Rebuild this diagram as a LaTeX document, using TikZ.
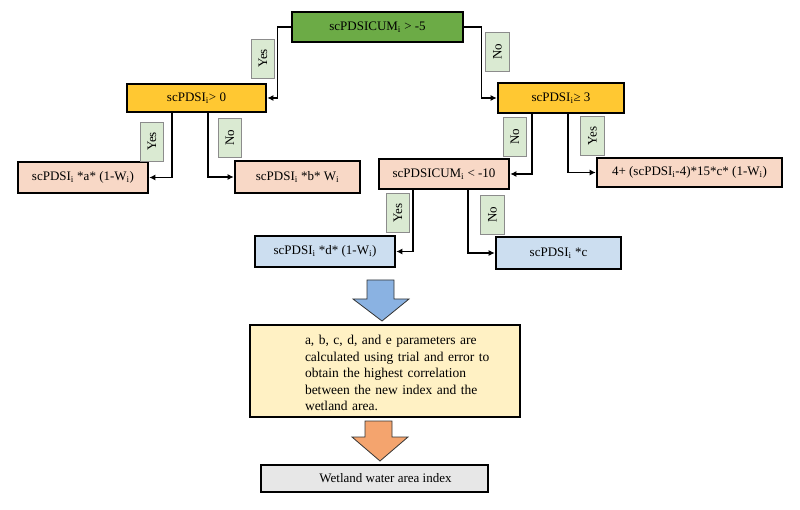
\documentclass[tikz,border=0pt]{standalone}
\usepackage{fontspec}
\setmainfont{Liberation Serif}
\usetikzlibrary{arrows.meta}
\definecolor{topgreen}{RGB}{108,171,70}
\definecolor{gold}{RGB}{255,200,50}
\definecolor{peach}{RGB}{248,216,198}
\definecolor{paleblue}{RGB}{204,222,240}
\definecolor{lblgreen}{RGB}{218,234,210}
\definecolor{lblborder}{RGB}{140,140,140}
\definecolor{cream}{RGB}{255,241,196}
\definecolor{lightgray}{RGB}{231,231,231}
\definecolor{arrowblue}{RGB}{138,178,226}
\definecolor{arroworange}{RGB}{244,164,110}
\tikzset{
  box/.style={draw=black, line width=2.6pt, inner sep=0pt, font=\fontsize{13}{15}\selectfont},
  lbl/.style={draw=lblborder, fill=lblgreen, line width=0.9pt, rotate=90, inner sep=0pt,
              minimum width=39pt, minimum height=23.5pt, font=\fontsize{13}{15}\selectfont},
  conn/.style={line width=1.3pt, -{Latex[length=6pt,width=6pt]}},
  blockarrow/.style={draw=black!80, line width=0.8pt, line join=miter}
}
\begin{document}
\begin{tikzpicture}[x=1pt,y=-1pt]
\useasboundingbox (0,0) rectangle (800,510);
% decision nodes
\node[box, fill=topgreen, minimum width=171pt, minimum height=30pt] (top) at (377.5,27) {scPDSICUM\textsubscript{i} > -5};
\node[box, fill=gold, minimum width=139pt, minimum height=28pt] (L) at (196.5,98) {scPDSI\textsubscript{i}> 0};
\node[box, fill=gold, minimum width=126pt, minimum height=30pt] (R) at (561,98) {scPDSI\textsubscript{i}≥ 3};
\node[box, fill=peach, minimum width=130pt, minimum height=31pt] (A) at (83,177.5) {scPDSI\textsubscript{i} *a* (1-W\textsubscript{i})};
\node[box, fill=peach, minimum width=125pt, minimum height=32pt] (B) at (297.5,177) {scPDSI\textsubscript{i} *b* W\textsubscript{i}};
\node[box, fill=peach, minimum width=130pt, minimum height=30pt] (CUM) at (444,174) {scPDSICUM\textsubscript{i} < -10};
\node[box, fill=peach, minimum width=185pt, minimum height=29pt] (F) at (689.5,172.5) {4+ (scPDSI\textsubscript{i}-4)*15*c* (1-W\textsubscript{i})};
\node[box, fill=paleblue, minimum width=140pt, minimum height=31pt] (D) at (325,251.5) {scPDSI\textsubscript{i} *d* (1-W\textsubscript{i})};
\node[box, fill=paleblue, minimum width=125pt, minimum height=32pt] (C) at (558.5,253) {scPDSI\textsubscript{i} *c};
\node[box, fill=cream, minimum width=270pt, minimum height=92pt] (big) at (385,371) {};
\node[align=left, inner sep=0pt, text width=200pt, font=\fontsize{13.5}{16.5}\selectfont] (bigtext) at (405,373)
  {a, b, c, d, and e parameters are\\calculated using trial and error to\\obtain the highest correlation\\between the new index and the\\wetland area.};
\node[box, fill=lightgray, minimum width=227pt, minimum height=27pt] (out) at (374.5,478.5) {\hspace*{22pt}Wetland water area index};
% connectors
\draw[conn] (top.west) -- ++(-13,0) |- (L.east);
\draw[conn] (top.east) -- ++(17,0) |- (R.west);
\draw[conn] ([xshift=-24.5pt]L.south) |- (A.east);
\draw[conn] ([xshift=11.5pt]L.south) |- (B.west);
\draw[conn] ([xshift=-29pt]R.south) |- (CUM.east);
\draw[conn] ([xshift=7pt]R.south) |- (F.west);
\draw[conn] ([xshift=-31pt]CUM.south) |- (D.east);
\draw[conn] ([xshift=24pt]CUM.south) |- (C.west);
% labels
\node[lbl] (y1) at (263,58.5) {Yes};
\node[lbl] (n1) at (497.5,51.5) {No};
\node[lbl] (y2) at (152,141.5) {Yes};
\node[lbl] (n2) at (230,138) {No};
\node[lbl] (n3) at (515,136.5) {No};
\node[lbl] (y3) at (592.5,136) {Yes};
\node[lbl] (y4) at (398,213) {Yes};
\node[lbl] (n4) at (492.5,215) {No};
% block arrows
\draw[blockarrow, fill=arrowblue] (367,280) -- (394,280) -- (394,299) -- (409,299) -- (382,321) -- (353,299) -- (367,299) -- cycle;
\draw[blockarrow, fill=arroworange] (365,421) -- (392,421) -- (392,437) -- (408,437) -- (380,461) -- (352,437) -- (365,437) -- cycle;
\end{tikzpicture}
\end{document}
